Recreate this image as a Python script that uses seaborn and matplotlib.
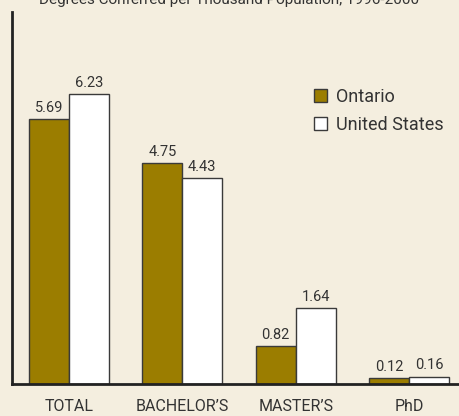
import seaborn as sns
import matplotlib.pyplot as plt
import pandas as pd

degrees = ["TOTAL", "BACHELOR’S", "MASTER’S", "PhD"]
ontario = [5.69, 4.75, 0.82, 0.12]
united_states = [6.23, 4.43, 1.64, 0.16]
regions = ["Ontario", "United States"]

bg = "#F4EEDF"
sns.set_theme(style="white")
plt.rcParams["font.family"] = ["Roboto", "DejaVu Sans"]

df = pd.DataFrame({
    "degree": degrees * 2,
    "value": ontario + united_states,
    "region": [regions[0]] * 4 + [regions[1]] * 4,
})

fig = plt.figure(figsize=(4.59, 4.16), dpi=100, facecolor=bg)
ax = fig.add_axes([12 / 459, 32 / 416, 1 - 12 / 459, 372 / 416], facecolor=bg)

sns.barplot(data=df, x="degree", y="value", hue="region",
            palette=["#9B7D00", "#FFFFFF"], width=0.705,
            edgecolor="#3a3a3a", linewidth=1, saturation=1, ax=ax)

for c in ax.containers:
    ax.bar_label(c, fmt="%.2f", padding=3, fontsize=10.5, color="#333333")

ax.set_ylim(0, 8)
ax.set_xlim(-0.502, 3.44)
ax.set_xlabel("")
ax.set_ylabel("")
ax.set_yticks([])
ax.tick_params(axis="x", length=0, labelsize=11.5, colors="#333333", pad=11)
for s in ["top", "right"]:
    ax.spines[s].set_visible(False)
for s in ["left", "bottom"]:
    ax.spines[s].set_color("#222222")
    ax.spines[s].set_linewidth(2)

ax.legend(loc="upper left", bbox_to_anchor=(0.64, 0.84), frameon=False,
          fontsize=13, handlelength=0.7, handleheight=0.7,
          handletextpad=0.5, labelspacing=0.55, labelcolor="#333333")

fig.text(0.5, 1.0, "Degrees Conferred per Thousand Population, 1996-2000",
         ha="center", va="center", fontsize=11, color="#333333")

fig.savefig("out.png", dpi=100, facecolor=bg)
